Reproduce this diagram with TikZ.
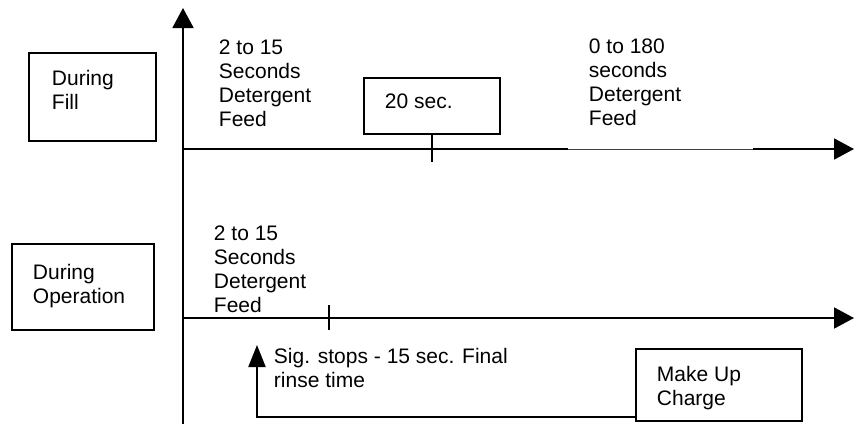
\documentclass[tikz,border=0pt]{standalone}
\usepackage{fontspec}
\setmainfont{Liberation Sans}
\usetikzlibrary{arrows.meta}

\begin{document}
\begin{tikzpicture}[x=1pt,y=-1pt,line width=1.9pt,
    box/.style={draw,rectangle,inner sep=0pt},
    lbl/.style={anchor=north west,inner sep=0pt,align=left,font=\fontsize{21}{24}\selectfont},
    bigtip/.style={-{Triangle[length=20pt,width=21pt]}}]

    \useasboundingbox (0,0) rectangle (854,426);

    % Time axes
    \coordinate (vbot) at (183,424);
    \coordinate (vtop) at (183,8);
    \draw[bigtip] (vbot) -- (vtop);

    \coordinate (fill0) at (183,149);
    \coordinate (gapA) at (568,149);
    \coordinate (gapB) at (753,149);
    \coordinate (fill1) at (854,149);
    \draw (fill0) -- (gapA);
    \draw[line width=0.8pt,black!75] (gapA) -- (gapB);
    \draw[bigtip] (gapB) -- (fill1);

    \coordinate (op0) at (183,318);
    \coordinate (op1) at (854,318);
    \draw[bigtip] (op0) -- (op1);

    % Row labels
    \node[box,minimum width=127pt,minimum height=88pt] (fillbox) at (92.5,97) {};
    \node[lbl] (filltxt) at (51,69) {During\\Fill};
    \node[box,minimum width=142pt,minimum height=86pt] (opbox) at (83,287) {};
    \node[lbl] (optxt) at (32,263) {During\\Operation};

    % During fill
    \node[lbl] (feedA) at (218,39) {2 to 15\\Seconds\\Detergent\\Feed};
    \node[box,minimum width=136pt,minimum height=56pt] (sec20) at (432,106) {};
    \node[lbl] (sec20txt) at (384,93) {20 sec.};
    \coordinate (tickA) at (432,162);
    \draw (sec20.south) -- (tickA);
    \node[lbl] (feedB) at (588,38) {0 to 180\\seconds\\Detergent\\Feed};

    % During operation
    \node[lbl] (feedC) at (213,225) {2 to 15\\Seconds\\Detergent\\Feed};
    \coordinate (tickBt) at (329,305);
    \coordinate (tickBb) at (329,330);
    \draw (tickBt) -- (tickBb);
    \node[lbl] (sigtxt) at (273,347) {Sig. stops - 15 sec. Final\\rinse time};
    \node[box,minimum width=166pt,minimum height=72pt] (mkup) at (719,385) {};
    \node[lbl] (mkuptxt) at (656,365) {Make Up\\Charge};
    \coordinate (bend) at (257,417);
    \coordinate (sigtip) at (257,345);
    \draw[-{Triangle[length=22pt,width=17pt]}] (mkup.west |- bend) -- (bend) -- (sigtip);

\end{tikzpicture}
\end{document}
